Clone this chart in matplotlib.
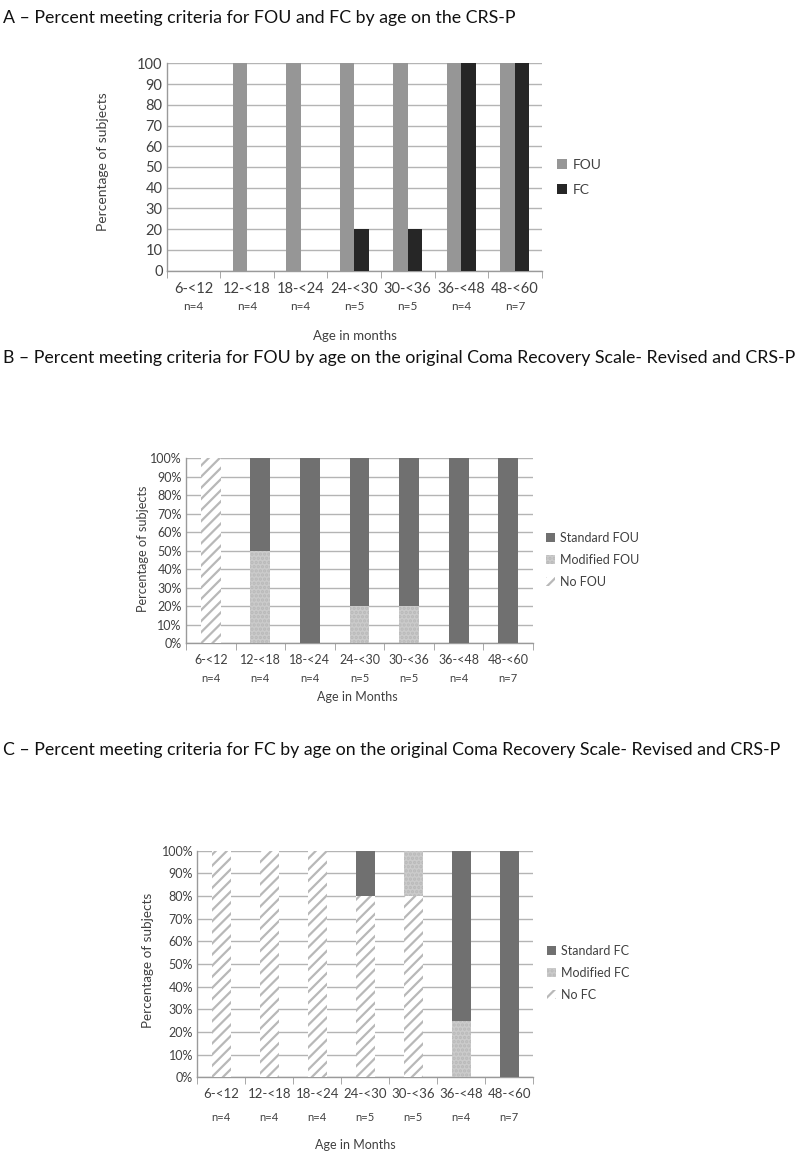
import matplotlib
matplotlib.use("Agg")
import matplotlib.pyplot as plt
from matplotlib.patches import Patch
import numpy as np

plt.rcParams['font.family'] = ['Lato', 'DejaVu Sans']
plt.rcParams['hatch.linewidth'] = 1.6

categories = ["6-<12", "12-<18", "18-<24", "24-<30", "30-<36", "36-<48", "48-<60"]
n_labels = ["n=4", "n=4", "n=4", "n=5", "n=5", "n=4", "n=7"]

# Panel A
fou_pct = [0, 100, 100, 100, 100, 100, 100]
fc_pct = [0, 0, 0, 20, 20, 100, 100]

# Panel B
b_no_fou = [100, 0, 0, 0, 0, 0, 0]
b_mod_fou = [0, 50, 0, 20, 20, 0, 0]
b_std_fou = [0, 50, 100, 80, 80, 100, 100]

# Panel C
c_no_fc = [100, 100, 100, 80, 80, 0, 0]
c_mod_fc = [0, 0, 0, 0, 20, 25, 0]
c_std_fc = [0, 0, 0, 20, 0, 75, 100]

W, H = 797, 1155
fig = plt.figure(figsize=(W / 100, H / 100), dpi=100)

GRID = '#b4b4b4'
SPINE = '#9a9a9a'
TXT = '#404040'
STD = '#707070'
MODF = '#cbcbcb'
HATCHC = '#b8b8b8'


def px_axes(x0, y0, x1, y1):
    return fig.add_axes([x0 / W, 1 - y1 / H, (x1 - x0) / W, (y1 - y0) / H])


def style_axes(ax, ytick_fs, xtick_fs, pct):
    n = len(categories)
    ax.set_xlim(0, n)
    ax.set_ylim(0, 100)
    ax.set_yticks(np.arange(0, 101, 10))
    if pct:
        ax.set_yticklabels([f"{v}%" for v in range(0, 101, 10)])
    ax.yaxis.grid(True, color=GRID, linewidth=1.0)
    ax.set_axisbelow(True)
    for s in ['top', 'right']:
        ax.spines[s].set_visible(False)
    for s in ['left', 'bottom']:
        ax.spines[s].set_color(SPINE)
        ax.spines[s].set_linewidth(1.0)
    ax.tick_params(axis='y', length=0, labelsize=ytick_fs, colors=TXT, pad=3)
    ax.set_xticks(np.arange(n) + 0.5)
    ax.set_xticks(np.arange(n + 1), minor=True)
    ax.tick_params(axis='x', which='major', length=0, labelsize=xtick_fs, colors=TXT, pad=8)
    ax.tick_params(axis='x', which='minor', length=5, color=SPINE, direction='out')
    ax.set_xticklabels(categories)


def n_row(ax, dy_px, fs):
    for i, lab in enumerate(n_labels):
        ax.annotate(lab, xy=(i + 0.5, 0), xycoords=('data', 'axes fraction'),
                    xytext=(0, -dy_px * 0.72), textcoords='offset points',
                    ha='center', va='center', fontsize=fs, color=TXT)


leg_kw = dict(loc='center left', frameon=False, handlelength=0.7, handleheight=0.7,
              handletextpad=0.45, borderaxespad=0, borderpad=0, labelcolor=TXT)

# ---------------- Panel A ----------------
fig.text(3 / W, 1 - 18 / H, "A – Percent meeting criteria for FOU and FC by age on the CRS-P",
         fontsize=12.8, ha='left', va='center', color='#111111')
axA = px_axes(166.7, 63.3, 541.7, 270.7)
style_axes(axA, 10.5, 10.5, False)
x = np.arange(len(categories)) + 0.5
bw = 0.27
axA.bar(x - bw / 2, fou_pct, bw, color='#969696', label='FOU', zorder=3)
axA.bar(x + bw / 2, fc_pct, bw, color='#262626', label='FC', zorder=3)
n_row(axA, 36, 8.5)
fig.text(355 / W, 1 - 336 / H, "Age in months", fontsize=9.5, ha='center', va='center', color=TXT)
fig.text(103 / W, 1 - 162 / H, "Percentage of subjects", fontsize=10, rotation=90,
         ha='center', va='center', color=TXT)
axA.legend(bbox_to_anchor=(1.041, 0.45), fontsize=10, labelspacing=0.9, **leg_kw)

# ---------------- Panel B ----------------
fig.text(3 / W, 1 - 358 / H,
         "B – Percent meeting criteria for FOU by age on the original Coma Recovery Scale- Revised and CRS-P",
         fontsize=12.8, ha='left', va='center', color='#111111')
axB = px_axes(186, 458.3, 533, 643.3)
style_axes(axB, 9, 9, True)
bwB = 0.40
bottom = np.zeros(len(categories))
axB.bar(x, b_no_fou, bwB, bottom=bottom, facecolor='white', edgecolor=HATCHC,
        hatch='///', linewidth=0, zorder=3)
bottom += np.array(b_no_fou)
axB.bar(x, b_mod_fou, bwB, bottom=bottom, facecolor=MODF, edgecolor='#b9b9b9',
        hatch='....', linewidth=0, zorder=3)
bottom += np.array(b_mod_fou)
axB.bar(x, b_std_fou, bwB, bottom=bottom, facecolor=STD, linewidth=0, zorder=3)
n_row(axB, 35, 8)
fig.text(357 / W, 1 - 697 / H, "Age in Months", fontsize=9, ha='center', va='center', color=TXT)
fig.text(143 / W, 1 - 549 / H, "Percentage of subjects", fontsize=9.2, rotation=90,
         ha='center', va='center', color=TXT)
legB = [Patch(facecolor=STD, label='Standard FOU'),
        Patch(facecolor=MODF, edgecolor='#b9b9b9', hatch='....', linewidth=0, label='Modified FOU'),
        Patch(facecolor='white', edgecolor=HATCHC, hatch='///', linewidth=0, label='No FOU')]
axB.legend(handles=legB, bbox_to_anchor=(1.037, 0.45), fontsize=9, labelspacing=0.8, **leg_kw)

# ---------------- Panel C ----------------
fig.text(3 / W, 1 - 750 / H,
         "C – Percent meeting criteria for FC by age on the original Coma Recovery Scale- Revised and CRS-P",
         fontsize=12.8, ha='left', va='center', color='#111111')
axC = px_axes(197.3, 850.7, 533.3, 1077.3)
style_axes(axC, 9, 9.5, True)
bwC = 0.39
bottom = np.zeros(len(categories))
axC.bar(x, c_no_fc, bwC, bottom=bottom, facecolor='white', edgecolor=HATCHC,
        hatch='///', linewidth=0, zorder=3)
bottom += np.array(c_no_fc)
axC.bar(x, c_mod_fc, bwC, bottom=bottom, facecolor=MODF, edgecolor='#b9b9b9',
        hatch='....', linewidth=0, zorder=3)
bottom += np.array(c_mod_fc)
axC.bar(x, c_std_fc, bwC, bottom=bottom, facecolor=STD, linewidth=0, zorder=3)
n_row(axC, 40, 8)
fig.text(355 / W, 1 - 1145 / H, "Age in Months", fontsize=9, ha='center', va='center', color=TXT)
fig.text(148 / W, 1 - 960 / H, "Percentage of subjects", fontsize=9.7, rotation=90,
         ha='center', va='center', color=TXT)
legC = [Patch(facecolor=STD, label='Standard FC'),
        Patch(facecolor=MODF, edgecolor='#b9b9b9', hatch='....', linewidth=0, label='Modified FC'),
        Patch(facecolor='white', edgecolor=HATCHC, hatch='///', linewidth=0, label='No FC')]
axC.legend(handles=legC, bbox_to_anchor=(1.041, 0.46), fontsize=9, labelspacing=0.8, **leg_kw)

fig.savefig("out.png", dpi=100, facecolor='white')
